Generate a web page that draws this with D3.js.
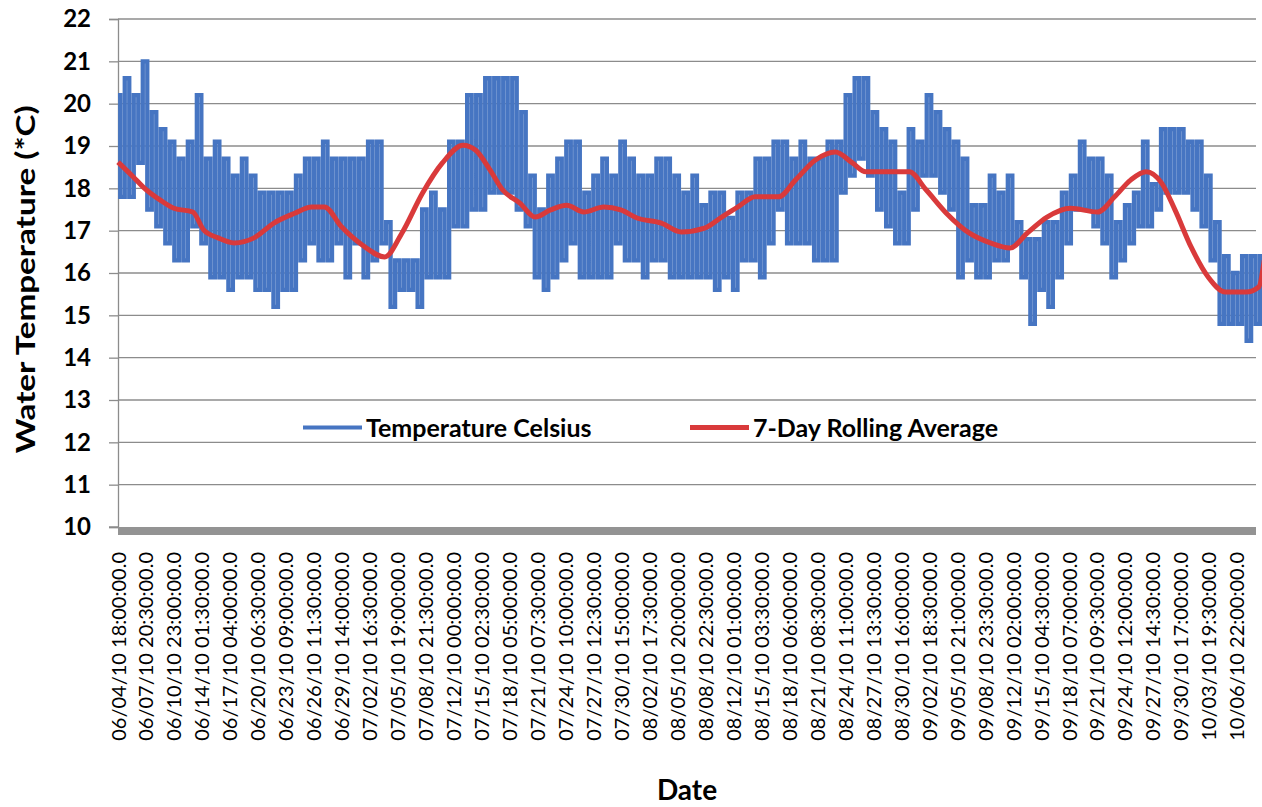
<!DOCTYPE html>
<html>
<head>
<meta charset="utf-8">
<script src="https://cdn.jsdelivr.net/npm/d3@7"></script>
<style>
  body { margin: 0; background: #fff; }
  text { font-family: Lato, "Liberation Sans", sans-serif; fill: #000; }
</style>
</head>
<body>
<svg id="chart"></svg>
<script>
// category labels shown under the x axis (every 149th reading in the logger file)
const dateLabels = [
  "06/04/10 18:00:00.0", "06/07/10 20:30:00.0", "06/10/10 23:00:00.0", "06/14/10 01:30:00.0",
  "06/17/10 04:00:00.0", "06/20/10 06:30:00.0", "06/23/10 09:00:00.0", "06/26/10 11:30:00.0",
  "06/29/10 14:00:00.0", "07/02/10 16:30:00.0", "07/05/10 19:00:00.0", "07/08/10 21:30:00.0",
  "07/12/10 00:00:00.0", "07/15/10 02:30:00.0", "07/18/10 05:00:00.0", "07/21/10 07:30:00.0",
  "07/24/10 10:00:00.0", "07/27/10 12:30:00.0", "07/30/10 15:00:00.0", "08/02/10 17:30:00.0",
  "08/05/10 20:00:00.0", "08/08/10 22:30:00.0", "08/12/10 01:00:00.0", "08/15/10 03:30:00.0",
  "08/18/10 06:00:00.0", "08/21/10 08:30:00.0", "08/24/10 11:00:00.0", "08/27/10 13:30:00.0",
  "08/30/10 16:00:00.0", "09/02/10 18:30:00.0", "09/05/10 21:00:00.0", "09/08/10 23:30:00.0",
  "09/12/10 02:00:00.0", "09/15/10 04:30:00.0", "09/18/10 07:00:00.0", "09/21/10 09:30:00.0",
  "09/24/10 12:00:00.0", "09/27/10 14:30:00.0", "09/30/10 17:00:00.0", "10/03/10 19:30:00.0",
  "10/06/10 22:00:00.0"
];
const firstReading = "06/04/10 18:00:00.0";
const lastReading = "10/09/10 01:00:00.0";

// afternoon highs, one per day starting with the first reading
const dailyHigh = [
  20.2, 20.6, 20.2, 21.0, 19.8, 19.4, 19.1, 18.7, 19.1, 20.2,
  18.7, 19.1, 18.7, 18.3, 18.7, 18.3, 17.9, 17.9, 17.9, 17.9,
  18.3, 18.7, 18.7, 19.1, 18.7, 18.7, 18.7, 18.7, 19.1, 19.1,
  17.2, 16.3, 16.3, 16.3, 17.5, 17.9, 17.5, 19.1, 19.1, 20.2,
  20.2, 20.6, 20.6, 20.6, 20.6, 19.8, 18.3, 17.5, 18.3, 18.7,
  19.1, 19.1, 17.9, 18.3, 18.7, 18.3, 19.1, 18.7, 18.3, 18.3,
  18.7, 18.7, 18.3, 17.9, 18.3, 17.6, 17.9, 17.9, 17.3, 17.9,
  17.9, 18.7, 18.7, 19.1, 19.1, 18.7, 19.1, 18.7, 18.7, 19.1,
  19.1, 20.2, 20.6, 20.6, 19.8, 19.4, 19.1, 17.9, 19.4, 19.1,
  20.2, 19.8, 19.4, 19.1, 18.7, 17.6, 17.6, 18.3, 17.9, 18.3,
  17.2, 16.8, 16.8, 17.2, 17.2, 17.9, 18.3, 19.1, 18.7, 18.7,
  18.3, 17.2, 17.6, 17.9, 19.1, 18.1, 19.4, 19.4, 19.4, 19.1,
  19.1, 18.3, 17.2, 16.4, 16.0, 16.4, 16.4, 16.4
];
// early-morning lows following each high
const dailyLow = [
  17.8, 17.8, 18.6, 17.5, 17.1, 16.7, 16.3, 16.3, 17.1, 16.7,
  15.9, 15.9, 15.6, 15.9, 15.9, 15.6, 15.6, 15.2, 15.6, 15.6,
  16.3, 16.7, 16.3, 16.3, 16.7, 15.9, 16.7, 15.9, 16.3, 16.7,
  15.2, 15.6, 15.6, 15.2, 15.9, 15.9, 15.9, 17.1, 17.1, 17.5,
  17.5, 17.9, 17.9, 17.9, 17.5, 17.1, 15.9, 15.6, 15.9, 16.3,
  16.7, 15.9, 15.9, 15.9, 15.9, 16.7, 16.3, 16.3, 15.9, 16.3,
  16.3, 15.9, 15.9, 15.9, 15.9, 15.9, 15.6, 15.9, 15.6, 16.3,
  16.3, 15.9, 16.7, 17.5, 16.7, 16.7, 16.7, 16.3, 16.3, 16.3,
  17.9, 18.3, 18.7, 18.3, 17.5, 17.1, 16.7, 16.7, 17.5, 18.3,
  18.3, 17.9, 17.5, 15.9, 16.3, 15.9, 15.9, 16.3, 16.3, 16.7,
  15.9, 14.8, 15.6, 15.2, 15.9, 16.7, 17.5, 17.5, 17.1, 16.7,
  15.9, 16.3, 16.7, 17.1, 17.1, 17.5, 17.9, 17.9, 17.9, 17.5,
  17.1, 16.3, 14.8, 14.8, 14.8, 14.4, 14.8
];

// 7-day rolling average, days since first reading
const avgDay = [
  0, 1.7, 2.8, 4.7, 6.2, 8.3, 9.5, 11.1, 12.9, 15.1,
  17.3, 19.6, 21.5, 22.9, 24.8, 27.1, 29.6, 31.5, 33.8, 36.0,
  38.3, 39.7, 41.3, 42.7, 44.6, 46.3, 48.0, 49.8, 51.7, 53.9,
  55.8, 57.6, 60.3, 62.5, 65.1, 67.0, 68.8, 70.7, 73.3, 75.2,
  77.4, 79.6, 81.5, 83.0, 85.2, 87.8, 89.7, 91.9, 94.5, 96.8,
  99.0, 100.9, 103.1, 105.7, 108.7, 110.6, 112.4, 114.1, 115.8, 117.3,
  119.1, 121.0, 122.9, 125.2, 126.6, 127.2
];
const avgTemp = [
  18.62, 18.27, 18.03, 17.72, 17.53, 17.44, 17.02, 16.83, 16.71, 16.83,
  17.18, 17.41, 17.56, 17.56, 17.09, 16.66, 16.38, 16.94, 17.89, 18.60,
  19.02, 18.90, 18.43, 17.96, 17.65, 17.32, 17.49, 17.60, 17.44, 17.56,
  17.49, 17.30, 17.18, 16.97, 17.06, 17.32, 17.56, 17.80, 17.80, 18.20,
  18.67, 18.86, 18.60, 18.39, 18.39, 18.39, 17.96, 17.42, 16.94, 16.71,
  16.59, 16.94, 17.32, 17.53, 17.44, 17.80, 18.20, 18.39, 18.13, 17.49,
  16.61, 15.90, 15.55, 15.55, 15.67, 16.30
];

const yTicks = [10, 11, 12, 13, 14, 15, 16, 17, 18, 19, 20, 21, 22];
const seriesNames = ["Temperature Celsius", "7-Day Rolling Average"];
const seriesColors = ["#4675c2", "#d93a3b"];

const width = 1262, height = 807;
const margin = { top: 19, right: 6, bottom: 280, left: 118 };

const parseTime = d3.timeParse("%m/%d/%y %H:%M:%S.0");
const formatTime = d3.timeFormat("%m/%d/%y %H:%M:%S.0");
const dayMs = 864e5;
const start = parseTime(firstReading);

const tempSeries = [];
dailyHigh.forEach((v, k) => {
  tempSeries.push({ t: new Date(+start + k * dayMs), v: v });
  if (k < dailyLow.length) {
    tempSeries.push({ t: new Date(+start + (k + 0.5) * dayMs), v: dailyLow[k] });
  }
});
const avgSeries = avgDay.map((d, i) => ({ t: new Date(+start + d * dayMs), v: avgTemp[i] }));

const svg = d3.select("#chart").attr("width", width).attr("height", height);

const xScale = d3.scaleTime()
  .domain([start, parseTime(lastReading)])
  .range([margin.left, width - margin.right]);
const yScale = d3.scaleLinear()
  .domain([10, 22])
  .range([height - margin.bottom, margin.top]);

// horizontal gridlines
svg.append("g")
  .selectAll("line")
  .data(yTicks.slice(1))
  .join("line")
  .attr("x1", xScale.range()[0])
  .attr("x2", xScale.range()[1])
  .attr("y1", d => yScale(d))
  .attr("y2", d => yScale(d))
  .attr("stroke", "#8c8c8c")
  .attr("stroke-width", 1.3);

// y axis
const yAxis = svg.append("g")
  .attr("transform", `translate(${margin.left},0)`)
  .call(d3.axisLeft(yScale).tickValues(yTicks).tickSize(9).tickPadding(18));
yAxis.select(".domain").attr("stroke", "#8c8c8c").attr("stroke-width", 1.3);
yAxis.selectAll(".tick line").attr("stroke", "#8c8c8c").attr("stroke-width", 1.3);
yAxis.selectAll(".tick text")
  .style("font-family", "Lato, sans-serif")
  .style("font-size", "24px")
  .style("font-weight", "bold")
  .attr("fill", "#000");

// x axis
const xAxis = svg.append("g")
  .attr("transform", `translate(0,${yScale(10)})`)
  .call(d3.axisBottom(xScale).tickValues(dateLabels.map(parseTime)).tickFormat(formatTime).tickSize(0));
xAxis.select(".domain").remove();
xAxis.selectAll(".tick text")
  .attr("transform", "rotate(-90)")
  .attr("text-anchor", "end")
  .attr("x", -25)
  .attr("y", 0)
  .attr("dy", "0.35em")
  .style("font-family", "Lato, sans-serif")
  .style("font-size", "20px")
  .attr("fill", "#000");

// thick category axis bar
svg.append("rect")
  .attr("x", xScale.range()[0])
  .attr("y", yScale(10))
  .attr("width", xScale.range()[1] - xScale.range()[0])
  .attr("height", 8)
  .attr("fill", "#939393");
svg.append("line")
  .attr("x1", margin.left - 9)
  .attr("x2", margin.left)
  .attr("y1", yScale(10))
  .attr("y2", yScale(10))
  .attr("stroke", "#8c8c8c")
  .attr("stroke-width", 1.3);

// series
const tempLine = d3.line()
  .x(d => xScale(d.t))
  .y(d => yScale(d.v))
  .curve(d3.curveStep);
const avgLine = d3.line()
  .x(d => xScale(d.t))
  .y(d => yScale(d.v))
  .curve(d3.curveMonotoneX);

svg.append("path")
  .datum(tempSeries)
  .attr("fill", "none")
  .attr("stroke", seriesColors[0])
  .attr("stroke-width", 4.3)
  .attr("d", tempLine);
svg.append("path")
  .datum(avgSeries)
  .attr("fill", "none")
  .attr("stroke", seriesColors[1])
  .attr("stroke-width", 5)
  .attr("stroke-linejoin", "round")
  .attr("d", avgLine);

// legend
const legendY = yScale(12.35);
const legendX = [303, 690];
const legend = svg.append("g")
  .selectAll("g")
  .data(seriesNames)
  .join("g")
  .attr("transform", (d, i) => `translate(${legendX[i]},${legendY})`);
legend.append("line")
  .attr("x1", 0).attr("x2", 59)
  .attr("stroke", (d, i) => seriesColors[i])
  .attr("stroke-width", (d, i) => i === 0 ? 4 : 5);
legend.append("text")
  .attr("x", 63)
  .attr("dy", "0.36em")
  .style("font-size", "25px")
  .style("font-weight", "bold")
  .text(d => d);

// axis titles
svg.append("text")
  .attr("transform", `translate(35,${yScale(15.85)}) rotate(-90)`)
  .attr("text-anchor", "middle")
  .attr("textLength", 348)
  .attr("lengthAdjust", "spacingAndGlyphs")
  .style("font-size", "27px")
  .style("font-weight", "bold")
  .text("Water Temperature (*C)");
svg.append("text")
  .attr("x", 687)
  .attr("y", 800)
  .attr("text-anchor", "middle")
  .style("font-size", "28px")
  .style("font-weight", "bold")
  .text("Date");
</script>
</body>
</html>
